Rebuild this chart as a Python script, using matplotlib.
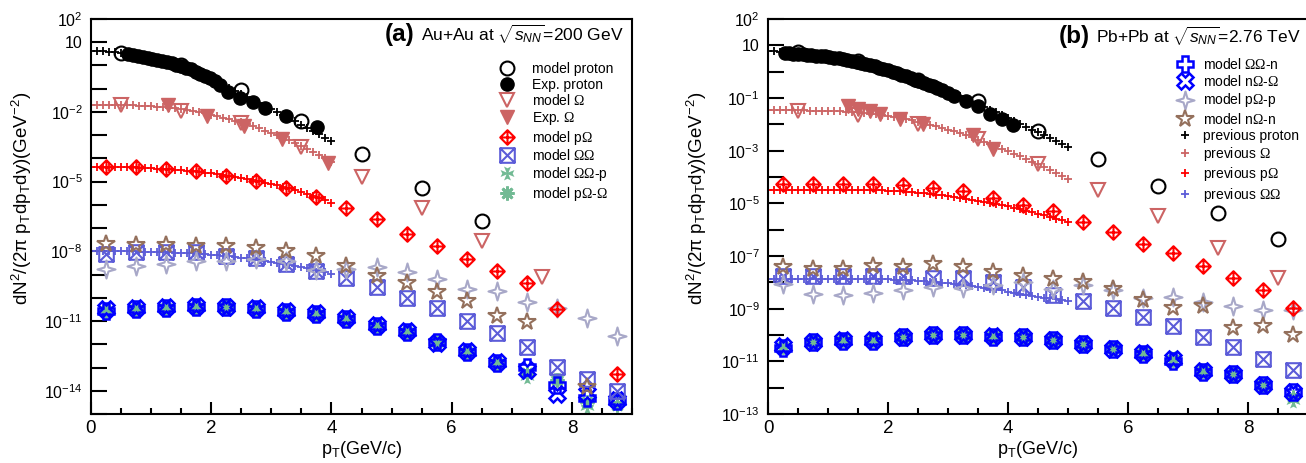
import numpy as np
import matplotlib
matplotlib.use("Agg")
import matplotlib.pyplot as plt
from matplotlib.path import Path
from matplotlib.ticker import FixedLocator, MultipleLocator, FuncFormatter, NullLocator
from matplotlib.offsetbox import TextArea, HPacker, AnchoredOffsetbox

plt.rcParams['font.family'] = ['Liberation Sans', 'DejaVu Sans']
plt.rcParams['mathtext.fontset'] = 'custom'
plt.rcParams['mathtext.rm'] = 'Liberation Serif'
plt.rcParams['mathtext.sf'] = 'Liberation Sans'
plt.rcParams['mathtext.it'] = 'Liberation Sans:italic'
plt.rcParams['mathtext.bf'] = 'Liberation Sans:bold'

#################### DATA (log10 of dN2/(2pi pT dpT dy)) ####################
# ---- (a) Au+Au 200 GeV ----
a_x_prev = np.round(np.arange(0, 4.01, 0.1), 1)
a_prev_proton = [0.62, 0.62, 0.61, 0.59, 0.56, 0.52, 0.48, 0.43, 0.38, 0.33,
                 0.27, 0.21, 0.15, 0.08, 0.00, -0.09, -0.19, -0.29, -0.40, -0.51,
                 -0.63, -0.75, -0.87, -0.99, -1.11, -1.23, -1.36, -1.49, -1.62, -1.75,
                 -1.88, -2.01, -2.14, -2.27, -2.41, -2.55, -2.69, -2.83, -2.97, -3.11,
                 -3.25]
a_prev_omega = [-1.70, -1.70, -1.70, -1.70, -1.70, -1.70, -1.71, -1.72, -1.73, -1.74,
                -1.75, -1.77, -1.79, -1.82, -1.85, -1.88, -1.92, -1.97, -2.01, -2.06,
                -2.12, -2.18, -2.24, -2.31, -2.38, -2.45, -2.53, -2.62, -2.71, -2.80,
                -2.90, -3.00, -3.10, -3.21, -3.33, -3.45, -3.58, -3.72, -3.86, -4.00,
                -4.15]
a_prev_pomega = [-4.37, -4.37, -4.37, -4.37, -4.37, -4.38, -4.38, -4.39, -4.40, -4.41,
                 -4.42, -4.44, -4.45, -4.47, -4.49, -4.51, -4.53, -4.56, -4.58, -4.61,
                 -4.64, -4.68, -4.72, -4.76, -4.80, -4.84, -4.89, -4.94, -4.99, -5.04,
                 -5.09, -5.15, -5.21, -5.28, -5.36, -5.44, -5.52, -5.61, -5.70, -5.80,
                 -5.90]
a_prev_oo = [-8.00, -8.00, -8.00, -8.00, -8.00, -8.00, -8.00, -8.00, -8.01, -8.01,
             -8.02, -8.02, -8.03, -8.04, -8.05, -8.06, -8.07, -8.08, -8.10, -8.12,
             -8.14, -8.16, -8.18, -8.21, -8.24, -8.27, -8.30, -8.33, -8.37, -8.41,
             -8.45, -8.49, -8.53, -8.58, -8.63, -8.68, -8.73, -8.78, -8.84, -8.90,
             -8.96]

a_exp_proton_x = [0.62, 0.70, 0.78, 0.86, 0.94, 1.02, 1.10, 1.18, 1.26, 1.34, 1.42, 1.50, 1.58,
                  1.66, 1.74, 1.82, 1.90, 1.98, 2.06, 2.15, 2.28, 2.48, 2.70, 2.90, 3.25, 3.76]
a_exp_proton = [0.48, 0.45, 0.42, 0.38, 0.34, 0.30, 0.25, 0.20, 0.15, 0.10, 0.04, -0.02, -0.09,
                -0.17, -0.26, -0.35, -0.45, -0.56, -0.68, -0.84, -1.15, -1.38, -1.59, -1.81, -2.19, -2.65]
a_exp_omega_x = [1.28, 1.93, 2.54, 3.18, 3.95]
a_exp_omega = [-1.71, -2.18, -2.62, -3.17, -4.20]

a_x_proton = [0.5, 1.5, 2.5, 3.5, 4.5, 5.5, 6.5]
a_model_proton = [0.53, 0.01, -1.05, -2.40, -3.81, -5.27, -6.69]
a_x_omega = [0.5, 1.5, 2.5, 3.5, 4.5, 5.5, 6.5, 7.5]
a_model_omega = [-1.71, -1.97, -2.48, -3.51, -4.80, -6.13, -7.55, -9.10]

x_pair = [0.25, 0.75, 1.25, 1.75, 2.25, 2.75, 3.25, 3.75, 4.25,
          4.75, 5.25, 5.75, 6.25, 6.75, 7.25, 7.75, 8.25, 8.75]
a_pomega = [-4.37, -4.37, -4.46, -4.54, -4.76, -4.97, -5.27, -5.66, -6.13,
            -6.60, -7.25, -7.77, -8.33, -8.84, -9.36, -10.50, np.nan, -13.27]
a_oo = [-8.11, -8.02, -8.02, -8.02, -8.20, -8.28, -8.54, -8.84, -9.14,
        -9.53, -10.00, -10.43, -10.99, -11.50, -12.10, -12.97, -13.50, -14.00]
a_nomega_n = [-7.68, -7.72, -7.72, -7.76, -7.76, -7.85, -7.98, -8.20, -8.63,
              -9.06, -9.36, -9.74, -10.13, -10.78, -11.03, np.nan, -13.83, np.nan]
a_pomega_p = [-8.75, -8.63, -8.55, -8.41, -8.41, -8.33, -8.41, -8.80, -8.75,
              -8.67, -8.88, -9.18, -9.60, -9.70, -10.17, -10.43, -10.86, -11.63]
a_oo_n = [-10.56, -10.47, -10.43, -10.39, -10.39, -10.47, -10.60, -10.69, -10.90,
          -11.20, -11.46, -11.90, -12.32, -12.80, -12.97, -13.75, -14.30, -14.45]
a_nomega_omega = [-10.50, -10.45, -10.40, -10.36, -10.38, -10.44, -10.55, -10.66, -10.86,
                  -11.15, -11.42, -11.95, -12.30, -12.75, -13.10, -14.13, -14.10, -14.40]
a_oo_p = [-10.52, -10.47, -10.42, -10.38, -10.38, -10.46, -10.58, -10.68, -10.88,
          -11.18, -11.48, -11.85, -12.30, -12.78, -13.40, -13.50, -14.70, -14.50]
a_pomega_omega = [-10.55, -10.48, -10.44, -10.40, -10.40, -10.48, -10.60, -10.70, -10.92,
                  -11.22, -11.47, -11.88, -12.34, -12.82, -13.25, -13.55, -14.50, -14.60]

# ---- (b) Pb+Pb 2.76 TeV ----
b_x_prev = np.round(np.arange(0, 5.01, 0.1), 1)
b_prev_proton = [0.77, 0.77, 0.76, 0.75, 0.74, 0.72, 0.70, 0.68, 0.65, 0.62,
                 0.59, 0.55, 0.51, 0.46, 0.41, 0.36, 0.30, 0.24, 0.18, 0.11,
                 0.04, -0.03, -0.10, -0.17, -0.25, -0.33, -0.41, -0.49, -0.58, -0.67,
                 -0.76, -0.85, -0.94, -1.04, -1.14, -1.24, -1.34, -1.44, -1.55, -1.65,
                 -1.76, -1.87, -1.98, -2.09, -2.20, -2.31, -2.42, -2.53, -2.64, -2.75,
                 -2.86]
b_prev_omega = [-1.47, -1.47, -1.47, -1.47, -1.47, -1.47, -1.47, -1.48, -1.48, -1.49,
                -1.49, -1.50, -1.51, -1.52, -1.53, -1.55, -1.57, -1.59, -1.62, -1.65,
                -1.68, -1.72, -1.76, -1.80, -1.85, -1.90, -1.95, -2.01, -2.07, -2.13,
                -2.20, -2.27, -2.34, -2.42, -2.50, -2.58, -2.66, -2.75, -2.84, -2.93,
                -3.02, -3.12, -3.22, -3.32, -3.42, -3.52, -3.62, -3.73, -3.84, -3.95,
                -4.06]
b_prev_pomega = [-4.48, -4.48, -4.48, -4.48, -4.48, -4.48, -4.48, -4.48, -4.48, -4.48,
                 -4.48, -4.48, -4.48, -4.48, -4.48, -4.48, -4.49, -4.49, -4.50, -4.51,
                 -4.52, -4.53, -4.54, -4.56, -4.58, -4.60, -4.62, -4.64, -4.67, -4.70,
                 -4.73, -4.76, -4.79, -4.82, -4.86, -4.90, -4.94, -4.98, -5.02, -5.07,
                 -5.12, -5.17, -5.22, -5.28, -5.34, -5.40, -5.46, -5.52, -5.58, -5.64,
                 -5.70]
b_prev_oo = [-7.86, -7.86, -7.86, -7.86, -7.86, -7.86, -7.86, -7.86, -7.86, -7.86,
             -7.86, -7.86, -7.86, -7.86, -7.86, -7.86, -7.87, -7.87, -7.88, -7.88,
             -7.89, -7.90, -7.91, -7.92, -7.93, -7.94, -7.96, -7.98, -8.00, -8.02,
             -8.04, -8.06, -8.09, -8.12, -8.15, -8.18, -8.21, -8.24, -8.27, -8.31,
             -8.35, -8.39, -8.43, -8.47, -8.51, -8.55, -8.58, -8.61, -8.64, -8.67,
             -8.70]

b_exp_proton_x = [0.28, 0.35, 0.42, 0.50, 0.58, 0.65, 0.72, 0.80, 0.88, 0.95, 1.02, 1.10, 1.18,
                  1.25, 1.32, 1.40, 1.48, 1.55, 1.62, 1.70, 1.78, 1.85, 1.92, 2.00, 2.08, 2.15,
                  2.22, 2.30, 2.38, 2.45, 2.52, 2.60, 2.68, 2.75, 2.82, 2.90, 3.00, 3.10, 3.30,
                  3.50, 3.70, 3.90, 4.08]
b_exp_proton = [0.70, 0.69, 0.68, 0.67, 0.66, 0.64, 0.62, 0.61, 0.59, 0.58, 0.56, 0.53, 0.50,
                0.47, 0.44, 0.40, 0.37, 0.33, 0.29, 0.25, 0.20, 0.15, 0.10, 0.05, -0.01, -0.06,
                -0.12, -0.18, -0.24, -0.30, -0.36, -0.42, -0.49, -0.56, -0.63, -0.70, -0.80, -0.92, -1.10,
                -1.32, -1.60, -1.78, -2.04]
b_exp_omega_x = [1.33, 1.50, 1.70, 1.87, 2.20, 2.58, 3.42, 3.75]
b_exp_omega = [-1.32, -1.40, -1.51, -1.62, -1.81, -2.00, -2.42, -2.92]

b_x_model = [0.5, 1.5, 2.5, 3.5, 4.5, 5.5, 6.5, 7.5, 8.5]
b_model_proton = [0.75, 0.39, -0.33, -1.13, -2.27, -3.30, -4.36, -5.35, -6.35]
b_model_omega = [-1.50, -1.66, -1.97, -2.54, -3.49, -4.50, -5.50, -6.68, -7.82]

b_pomega = [-4.25, -4.25, -4.25, -4.25, -4.32, -4.40, -4.55, -4.78, -5.08,
            -5.31, -5.69, -6.07, -6.53, -6.90, -7.37, -7.82, -8.30, -8.96]
b_oo = [-7.75, -7.75, -7.76, -7.76, -7.76, -7.82, -7.84, -7.97, -8.16,
        -8.47, -8.70, -8.96, -9.30, -9.65, -10.07, -10.44, -10.90, -11.32]
b_nomega_n = [-7.40, -7.48, -7.50, -7.37, -7.40, -7.29, -7.40, -7.60, -7.75,
              -7.86, -7.97, -8.24, -8.66, -8.96, -8.89, -9.72, -9.65, -9.99]
b_pomega_p = [-8.05, -8.43, -8.47, -8.39, -8.28, -8.16, -8.20, -8.10, -7.97,
              -8.24, -8.09, -8.30, -8.58, -8.54, -8.73, -8.89, -9.04, -9.04]
b_oo_n = [-10.50, -10.28, -10.22, -10.22, -10.06, -10.00, -10.00, -10.06, -10.06,
          -10.20, -10.33, -10.52, -10.71, -11.00, -11.40, -11.50, -11.90, -12.15]
b_nomega_omega = [-10.42, -10.25, -10.18, -10.20, -10.06, -10.00, -10.00, -10.05, -10.06,
                  -10.20, -10.33, -10.52, -10.70, -10.90, -11.38, -11.50, -11.90, -12.15]
b_oo_p = [-10.40, -10.20, -10.15, -10.15, -10.05, -9.95, -9.95, -10.00, -10.02,
          -10.15, -10.30, -10.45, -10.65, -10.85, -11.30, -11.45, -11.85, -12.50]
b_pomega_omega = [-10.45, -10.25, -10.20, -10.20, -10.06, -10.00, -10.00, -10.05, -10.06,
                  -10.20, -10.33, -10.50, -10.70, -10.95, -11.35, -11.50, -11.90, -12.35]

#################### MARKERS / COLOURS ####################
M, L, C = Path.MOVETO, Path.LINETO, Path.CLOSEPOLY
diamond_cross = Path([(0, 1), (1, 0), (0, -1), (-1, 0), (0, 1), (0, 1), (0, -1), (-1, 0), (1, 0)],
                     [M, L, L, L, C, M, L, M, L])
square_x = Path([(-1, -1), (1, -1), (1, 1), (-1, 1), (-1, -1), (-1, -1), (1, 1), (-1, 1), (1, -1)],
                [M, L, L, L, C, M, L, M, L])
sparkle = Path([(0, 1), (0.22, 0.22), (1, 0), (0.22, -0.22), (0, -1), (-0.22, -0.22), (-1, 0),
                (-0.22, 0.22), (0, 1)], [M, L, L, L, L, L, L, L, C])
maltese = Path([(-0.15, 0.15), (-0.5, 1), (0, 0.75), (0.5, 1), (0.15, 0.15), (1, 0.5), (0.75, 0),
                (1, -0.5), (0.15, -0.15), (0.5, -1), (0, -0.75), (-0.5, -1), (-0.15, -0.15),
                (-1, -0.5), (-0.75, 0), (-1, 0.5), (-0.15, 0.15)],
               [M] + [L] * 15 + [C])

c_omega = '#cc6464'
c_pomega = '#ff0000'
c_oo = '#5c5cd8'
c_star = '#94705c'
c_gray = '#a8a8c8'
c_blue = '#0000ff'
c_green = '#72ba94'


def pts(ax, x, logy, **kw):
    return ax.plot(x, 10.0 ** np.asarray(logy, dtype=float), linestyle='none', **kw)[0]


def panel(ax, d):
    h = {}
    pl = dict(marker='+', ms=6, mew=1.3)
    h['pp'] = pts(ax, d['xp'], d['prev_proton'], color='black', label='previous proton', **pl)
    h['po'] = pts(ax, d['xp'], d['prev_omega'], color=c_omega, label=r'previous $\Omega$', **pl)
    h['ppo'] = pts(ax, d['xp'], d['prev_pomega'], color=c_pomega, label=r'previous p$\Omega$', **pl)
    h['poo'] = pts(ax, d['xp'], d['prev_oo'], color=c_oo, label=r'previous $\Omega\Omega$', **pl)
    h['oop'] = pts(ax, x_pair, d['oo_p'], marker=maltese, ms=10, color=c_green, mew=0,
                   label=r'model $\Omega\Omega$-p')
    h['poo_'] = pts(ax, x_pair, d['pomega_omega'], marker=(8, 2, 0), ms=10, mew=2, color=c_green,
                    label=r'model p$\Omega$-$\Omega$')
    h['oon'] = pts(ax, x_pair, d['oo_n'], marker='P', ms=11, mew=1.8, mfc='none', mec=c_blue,
                   label=r'model $\Omega\Omega$-n')
    h['noo'] = pts(ax, x_pair, d['nomega_omega'], marker='X', ms=11, mew=1.8, mfc='none', mec=c_blue,
                   label=r'model n$\Omega$-$\Omega$')
    h['oo'] = pts(ax, x_pair, d['oo'], marker=square_x, ms=10.5, mew=1.5, mfc='none', mec=c_oo,
                  label=r'model $\Omega\Omega$')
    h['pop'] = pts(ax, x_pair, d['pomega_p'], marker=sparkle, ms=13, mew=1.5, mfc='none', mec=c_gray,
                   label=r'model p$\Omega$-p')
    h['non'] = pts(ax, x_pair, d['nomega_n'], marker='*', ms=13, mew=1.5, mfc='none', mec=c_star,
                   label=r'model n$\Omega$-n')
    h['pom'] = pts(ax, x_pair, d['pomega'], marker=diamond_cross, ms=10.5, mew=1.5, mfc='none',
                   mec=c_pomega, label=r'model p$\Omega$')
    h['mo'] = pts(ax, d['x_omega'], d['model_omega'], marker='v', ms=10.5, mew=1.5, mfc='none',
                  mec=c_omega, label=r'model $\Omega$')
    h['eo'] = pts(ax, d['exp_omega_x'], d['exp_omega'], marker='v', ms=10.5, color=c_omega,
                  label=r'Exp. $\Omega$')
    h['ep'] = pts(ax, d['exp_proton_x'], d['exp_proton'], marker='o', ms=9.5, color='black',
                  label='Exp. proton')
    h['mp'] = pts(ax, d['x_proton'], d['model_proton'], marker='o', ms=10, mew=1.5, mfc='none',
                  mec='black', label='model proton')
    return h


def fmt_factory(label_exps):
    def fmt(v, pos):
        e = int(round(np.log10(v)))
        if e not in label_exps:
            return ''
        if e == 1:
            return '10'
        return r'$\mathsf{10^{%d}}$' % e
    return fmt


def style(ax, ymin_exp, label_exps):
    ax.set_yscale('log')
    ax.set_xlim(0, 9)
    ax.set_ylim(10.0 ** ymin_exp, 1e2)
    ax.xaxis.set_major_locator(MultipleLocator(2))
    ax.xaxis.set_minor_locator(MultipleLocator(0.5))
    ax.yaxis.set_major_locator(FixedLocator(10.0 ** np.arange(ymin_exp, 3)))
    ax.yaxis.set_minor_locator(NullLocator())
    ax.yaxis.set_major_formatter(FuncFormatter(fmt_factory(label_exps)))
    ax.tick_params(which='both', direction='in', top=False, right=False, width=1.5)
    ax.tick_params(axis='x', which='major', length=8.6, labelsize=13.5, pad=4)
    ax.tick_params(axis='x', which='minor', length=4.3)
    ax.tick_params(axis='y', which='major', length=11.5, labelsize=11.5, pad=6)
    for s in ax.spines.values():
        s.set_linewidth(1.5)
    ax.set_xlabel(r'$\mathsf{p_{T}(GeV/c)}$', fontsize=13)
    ax.xaxis.label.set_va('center')
    ax.xaxis.set_label_coords(0.5, -(450 - 414) / 395.0)
    ax.set_ylabel(r'$\mathsf{dN^{2}/(2\pi\ p_{T}dp_{T}dy)(GeV^{-2})}$', fontsize=13.5)
    ax.yaxis.label.set_va('center')


W, H = 1306.0, 463.0
fig = plt.figure(figsize=(13.06, 4.63), dpi=100)
ax_a = fig.add_axes([91 / W, 1 - 414 / H, 541 / W, 395 / H])
ax_b = fig.add_axes([768 / W, 1 - 414 / H, 540 / W, 395 / H])

data_a = dict(xp=a_x_prev, prev_proton=a_prev_proton, prev_omega=a_prev_omega,
              prev_pomega=a_prev_pomega, prev_oo=a_prev_oo, oo_p=a_oo_p,
              pomega_omega=a_pomega_omega, oo_n=a_oo_n, nomega_omega=a_nomega_omega, oo=a_oo,
              pomega_p=a_pomega_p, nomega_n=a_nomega_n, pomega=a_pomega, x_omega=a_x_omega,
              model_omega=a_model_omega, exp_omega_x=a_exp_omega_x, exp_omega=a_exp_omega,
              exp_proton_x=a_exp_proton_x, exp_proton=a_exp_proton, x_proton=a_x_proton,
              model_proton=a_model_proton)
data_b = dict(xp=b_x_prev, prev_proton=b_prev_proton, prev_omega=b_prev_omega,
              prev_pomega=b_prev_pomega, prev_oo=b_prev_oo, oo_p=b_oo_p,
              pomega_omega=b_pomega_omega, oo_n=b_oo_n, nomega_omega=b_nomega_omega, oo=b_oo,
              pomega_p=b_pomega_p, nomega_n=b_nomega_n, pomega=b_pomega, x_omega=b_x_model,
              model_omega=b_model_omega, exp_omega_x=b_exp_omega_x, exp_omega=b_exp_omega,
              exp_proton_x=b_exp_proton_x, exp_proton=b_exp_proton, x_proton=b_x_model,
              model_proton=b_model_proton)

ha = panel(ax_a, data_a)
hb = panel(ax_b, data_b)
style(ax_a, -15, [2, 1, -2, -5, -8, -11, -14])
style(ax_b, -13, [2, 1, -1, -3, -5, -7, -9, -11, -13])
ax_a.yaxis.set_label_coords((22 - 91) / 541.0, (414 - 198) / 395.0)
ax_b.yaxis.set_label_coords((697 - 768) / 540.0, (414 - 198) / 395.0)

leg_kw = dict(loc='upper left', bbox_transform=fig.transFigure, frameon=False, fontsize=10,
              handlelength=1.5, borderpad=0, borderaxespad=0, numpoints=1)
ax_a.legend(handles=[ha['mp'], ha['ep'], ha['mo'], ha['eo'], ha['pom'], ha['oo'], ha['oop'], ha['poo_']],
            bbox_to_anchor=(497 / W, 1 - 62 / H), handletextpad=1.0, labelspacing=0.12, **leg_kw)
ax_b.legend(handles=[hb['oon'], hb['noo'], hb['pop'], hb['non'], hb['pp'], hb['po'], hb['ppo'], hb['poo']],
            bbox_to_anchor=(1175 / W, 1 - 57 / H), handletextpad=0.5, labelspacing=0.16, **leg_kw)

# panel titles
for ax, tag, txt, xr, yt in [(ax_a, '(a)', r'Au+Au at $\sqrt{s_{NN}}$=200 GeV', 624, 23),
                             (ax_b, '(b)', r'Pb+Pb at $\sqrt{s_{NN}}$=2.76 TeV', 1301, 25)]:
    t1 = TextArea(tag, textprops=dict(fontsize=17.5, fontweight='bold'))
    t2 = TextArea(txt, textprops=dict(fontsize=12.5))
    box = HPacker(children=[t1, t2], align='baseline', pad=0, sep=5)
    anc = AnchoredOffsetbox(loc='upper right', child=box, pad=0, borderpad=0, frameon=False,
                            bbox_to_anchor=(xr / W, 1 - yt / H), bbox_transform=fig.transFigure)
    ax.add_artist(anc)

fig.savefig('out.png', dpi=100)
